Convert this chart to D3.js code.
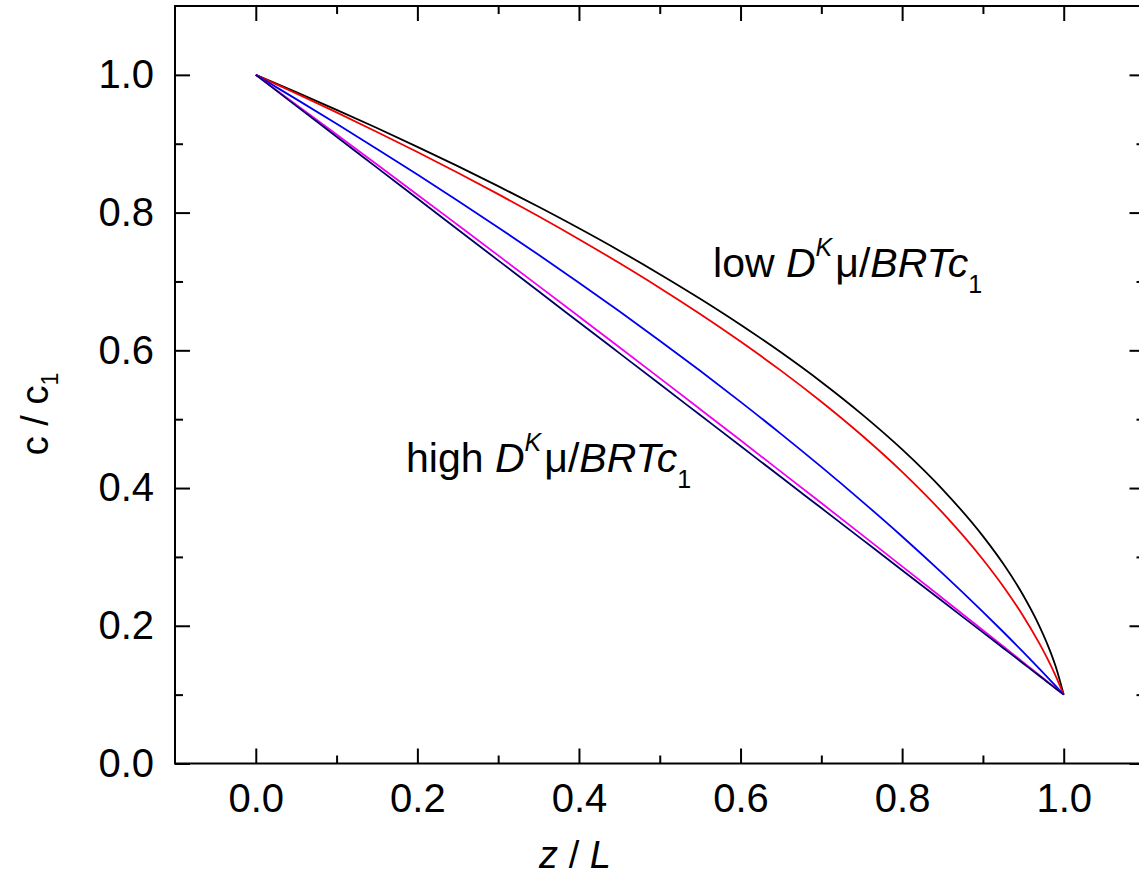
<!DOCTYPE html>
<html>
<head>
<meta charset="utf-8">
<script src="https://cdn.jsdelivr.net/npm/d3@7"></script>
<style>
  html, body { margin: 0; padding: 0; background: #fff; }
  svg { display: block; }
  text { font-family: "Liberation Sans", Arial, sans-serif; fill: #000; }
</style>
</head>
<body>
<svg id="chart" width="1139" height="888"></svg>
<script>
// ---- data ----
const zValues = [0, 0.05, 0.1, 0.15, 0.2, 0.25, 0.3, 0.35, 0.4, 0.45, 0.5, 0.55, 0.6, 0.65, 0.7, 0.75, 0.8, 0.85, 0.9, 0.925, 0.95, 0.97, 0.98, 0.99, 1.0];
const cBlack   = [1.0, 0.9749, 0.9492, 0.9228, 0.8955, 0.8675, 0.8385, 0.8084, 0.7772, 0.7447, 0.7106, 0.6749, 0.6372, 0.5971, 0.5541, 0.5074, 0.4561, 0.3981, 0.3302, 0.2903, 0.2439, 0.1992, 0.1726, 0.1411, 0.1];
const cRed     = [1.0, 0.9731, 0.9455, 0.9171, 0.8879, 0.8579, 0.8268, 0.7947, 0.7614, 0.7267, 0.6906, 0.6527, 0.6127, 0.5705, 0.5253, 0.4766, 0.4235, 0.3642, 0.2962, 0.2574, 0.2139, 0.1740, 0.1518, 0.1274, 0.1];
const cBlue    = [1.0, 0.9648, 0.9290, 0.8925, 0.8553, 0.8173, 0.7785, 0.7388, 0.6982, 0.6567, 0.6140, 0.5702, 0.5251, 0.4787, 0.4307, 0.3811, 0.3297, 0.2761, 0.2202, 0.1913, 0.1617, 0.1374, 0.1251, 0.1126, 0.1];
const cMagenta = [1.0, 0.9568, 0.9133, 0.8698, 0.8260, 0.7820, 0.7379, 0.6936, 0.6491, 0.6045, 0.5596, 0.5145, 0.4693, 0.4238, 0.3782, 0.3324, 0.2863, 0.2400, 0.1936, 0.1703, 0.1469, 0.1282, 0.1188, 0.1094, 0.1];
const cNavy    = [1.0, 0.9550, 0.9102, 0.8653, 0.8204, 0.7755, 0.7306, 0.6857, 0.6408, 0.5959, 0.5510, 0.5060, 0.4610, 0.4160, 0.3709, 0.3258, 0.2807, 0.2355, 0.1904, 0.1678, 0.1452, 0.1271, 0.1181, 0.1090, 0.1];

const xMajorTicks = [0.0, 0.2, 0.4, 0.6, 0.8, 1.0];
const xMinorTicks = [0.1, 0.3, 0.5, 0.7, 0.9];
const yMajorTicks = [0.0, 0.2, 0.4, 0.6, 0.8, 1.0];
const yMinorTicks = [0.1, 0.3, 0.5, 0.7, 0.9];

const series = [
  { name: "black",   values: cBlack,   color: "#000000" },
  { name: "red",     values: cRed,     color: "#f00000" },
  { name: "blue",    values: cBlue,    color: "#0000f0" },
  { name: "magenta", values: cMagenta, color: "#f000f0" },
  { name: "navy",    values: cNavy,    color: "#000066" }
];

(function () {
const svg = d3.select("#chart");
const pLeft = 175, pRight = 1144.5, pTop = 6, pBottom = 763.5;

const x = d3.scaleLinear().domain([-0.1, 1.1]).range([pLeft, pRight]);
const y = d3.scaleLinear().domain([0, 1.1]).range([pBottom, pTop]);

svg.append("rect").attr("width", 1139).attr("height", 888).attr("fill", "#fff");

// curves
const line = d3.line().x(d => x(d[0])).y(d => y(d[1])).curve(d3.curveMonotoneX);
const gCurves = svg.append("g");
series.forEach(s => {
  gCurves.append("path")
    .datum(zValues.map((z, i) => [z, s.values[i]]))
    .attr("d", line)
    .attr("fill", "none")
    .attr("stroke", s.color)
    .attr("stroke-width", 1.8)
    .attr("stroke-linejoin", "round");
});

// axes
const fmt = d3.format(".1f");
function styleAxis(g) {
  g.select(".domain").remove();
  g.selectAll(".tick line").attr("stroke", "#000").attr("stroke-width", 2);
  g.selectAll("text").attr("font-size", 40).attr("font-family", '"Liberation Sans", Arial, sans-serif');
}

svg.append("g").attr("transform", `translate(0,${pBottom})`)
  .call(d3.axisBottom(x).tickValues(xMajorTicks).tickSize(-15).tickPadding(20).tickFormat(fmt))
  .call(styleAxis);
svg.append("g").attr("transform", `translate(0,${pBottom})`)
  .call(d3.axisBottom(x).tickValues(xMinorTicks).tickSize(-8).tickFormat(""))
  .call(styleAxis);
svg.append("g").attr("transform", `translate(0,${pTop})`)
  .call(d3.axisTop(x).tickValues(xMajorTicks).tickSize(-15).tickFormat(""))
  .call(styleAxis);
svg.append("g").attr("transform", `translate(0,${pTop})`)
  .call(d3.axisTop(x).tickValues(xMinorTicks).tickSize(-8).tickFormat(""))
  .call(styleAxis);
svg.append("g").attr("transform", `translate(${pLeft},0)`)
  .call(d3.axisLeft(y).tickValues(yMajorTicks).tickSize(-15).tickPadding(21).tickFormat(fmt))
  .call(styleAxis);
svg.append("g").attr("transform", `translate(${pLeft},0)`)
  .call(d3.axisLeft(y).tickValues(yMinorTicks).tickSize(-8).tickFormat(""))
  .call(styleAxis);
svg.append("g").attr("transform", `translate(${pRight},0)`)
  .call(d3.axisRight(y).tickValues(yMajorTicks).tickSize(-15).tickFormat(""))
  .call(styleAxis);
svg.append("g").attr("transform", `translate(${pRight},0)`)
  .call(d3.axisRight(y).tickValues(yMinorTicks).tickSize(-8).tickFormat(""))
  .call(styleAxis);

// frame
svg.append("rect")
  .attr("x", pLeft).attr("y", pTop)
  .attr("width", pRight - pLeft).attr("height", pBottom - pTop)
  .attr("fill", "none").attr("stroke", "#000").attr("stroke-width", 2);

// axis titles
const xt = svg.append("text").attr("x", 575).attr("y", 868).attr("text-anchor", "middle").attr("font-size", 38);
xt.append("tspan").attr("font-style", "italic").text("z");
xt.append("tspan").text(" / ");
xt.append("tspan").attr("font-style", "italic").text("L");

const yt = svg.append("text").attr("transform", "translate(48,414) rotate(-90)").attr("text-anchor", "middle").attr("font-size", 38);
yt.append("tspan").text("c / c");
yt.append("tspan").attr("font-size", 23).attr("dy", 10).text("1");

// annotations
function annot(px, py, word) {
  const t = svg.append("text").attr("x", x(px)).attr("y", y(py)).attr("font-size", 41);
  t.append("tspan").text(word + " ");
  t.append("tspan").attr("font-style", "italic").text("D");
  t.append("tspan").attr("font-style", "italic").attr("font-size", 25).attr("dy", -21).text("K");
  t.append("tspan").attr("dy", 21).attr("dx", 3).text("\u03BC/");
  t.append("tspan").attr("font-style", "italic").text("BRTc");
  t.append("tspan").attr("font-size", 25).attr("dy", 16).text("1");
}
annot(0.566, 0.7065, "low");
annot(0.186, 0.4235, "high");
})();
</script>
</body>
</html>
